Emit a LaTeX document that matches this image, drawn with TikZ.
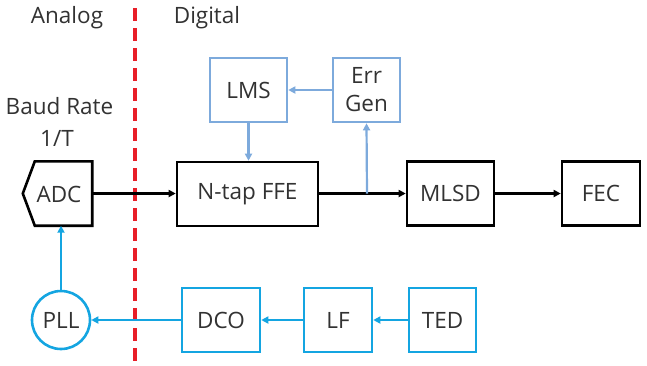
\documentclass[tikz,border=0pt]{standalone}
\usepackage{fontspec}
\setmainfont{Open Sans}
\usepackage{tikz}
\usetikzlibrary{arrows.meta,positioning}

\definecolor{txtgray}{RGB}{50,50,50}
\definecolor{pllblue}{RGB}{20,165,225}
\definecolor{adaptblue}{RGB}{125,170,220}
\definecolor{splitred}{RGB}{232,30,40}

\tikzset{
  blk/.style={draw=black, line width=2.6pt, minimum height=64pt, text=txtgray, inner sep=0pt},
  adaptblk/.style={draw=adaptblue, line width=2.6pt, minimum height=64pt, text=txtgray, inner sep=0pt, align=center},
  loopblk/.style={draw=pllblue, line width=2.6pt, minimum height=64pt, text=txtgray, inner sep=0pt},
  lbl/.style={text=txtgray, inner sep=0pt},
  sig/.style={line width=2.2pt, -{Triangle[length=7pt,width=7pt]}},
}

\begin{document}
\begin{tikzpicture}[x=1pt, y=-1pt, every node/.style={font=\fontsize{22.5}{28}\selectfont}]
\useasboundingbox (0,0) rectangle (647,365);

% Analog / digital split
\draw[splitred, line width=4pt, dash pattern=on 13pt off 7pt] (135,8) -- (135,365);
\node[lbl] (analog) at (67,18) {Analog};
\node[lbl] (digital) at (207,18) {Digital};
\node[lbl] (baud) at (59.5,106) {Baud Rate};
\node[lbl] (period) at (57,138) {1/T};

% Data path
\node[minimum width=57pt, minimum height=64pt, inner sep=0pt] (adc) at (63.5,193.5) {};
\draw[line width=2.6pt, line join=miter] (adc.north west) -- (adc.north east) -- (adc.south east)
  -- (adc.south west) -- ([xshift=-12pt]adc.west) -- cycle;
\node[lbl] (adctxt) at (59,194) {ADC};
\node[blk, minimum width=141pt] (ffe) at (247.5,194) {N-tap FFE};
\node[blk, minimum width=87pt] (mlsd) at (450.5,193.5) {MLSD};
\node[blk, minimum width=78pt] (fec) at (601,193.5) {FEC};

% Adaptation
\node[adaptblk, minimum width=77pt] (lms) at (248.5,90) {LMS};
\node[adaptblk, minimum width=67pt] (errgen) at (366.5,90) {Err\\Gen};

% Timing recovery loop
\node[draw=pllblue, line width=2.6pt, circle, minimum size=58pt, inner sep=0pt, text=txtgray] (pll) at (61,320) {PLL};
\node[loopblk, minimum width=78pt] (dco) at (221,320) {DCO};
\node[loopblk, minimum width=68pt] (lf) at (338,320) {LF};
\node[loopblk, minimum width=67pt] (ted) at (442.5,320) {TED};

% Connections
\coordinate (tap) at (367,193.5);
\draw[sig] (adc.east) -- (adc.east -| ffe.west);
\draw[sig] (ffe.east |- tap) -- (mlsd.west);
\draw[sig] (mlsd.east) -- (fec.west);
\draw[sig, adaptblue] (tap) -- (errgen.south);
\draw[sig, adaptblue] (errgen.west) -- (lms.east);
\draw[sig, adaptblue] (lms.south) -- (lms.south |- ffe.north);

\draw[sig, pllblue] (ted.west) -- (lf.east);
\draw[sig, pllblue] (lf.west) -- (dco.east);
\draw[sig, pllblue] (dco.west) -- (pll.east);
\draw[sig, pllblue] (pll.north) -- (pll.north |- adc.south);

\end{tikzpicture}
\end{document}
